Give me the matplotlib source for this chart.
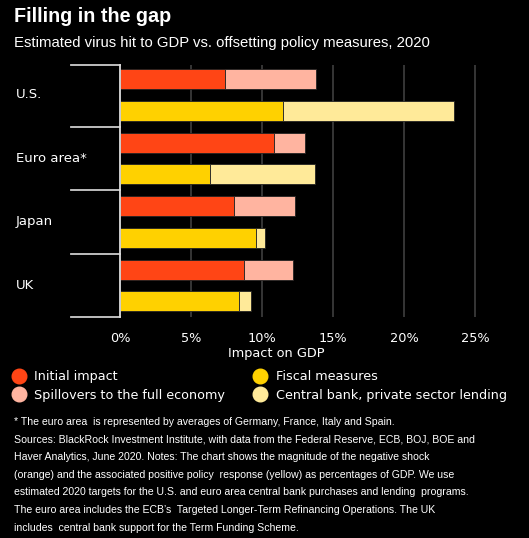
import matplotlib
matplotlib.use("Agg")
import matplotlib.pyplot as plt
from matplotlib.lines import Line2D
import matplotlib.transforms as mtransforms

countries = ["U.S.", "Euro area*", "Japan", "UK"]
initial_impact = [7.4, 10.85, 8.0, 8.7]
spillovers = [6.4, 2.15, 4.35, 3.5]
fiscal = [11.5, 6.35, 9.6, 8.4]
central_bank = [12.05, 7.35, 0.6, 0.85]
xticks = [0, 5, 10, 15, 20, 25]
xticklabels = ["0%", "5%", "10%", "15%", "20%", "25%"]

c_init = "#FF4515"
c_spill = "#FFB4A0"
c_fisc = "#FFD100"
c_cb = "#FFEA99"
bg = "#000000"
fg = "#ffffff"

fig = plt.figure(figsize=(5.29, 5.38), dpi=100, facecolor=bg)
W, H = 529, 538
ax_left, ax_right, ax_top, ax_bot = 120, 503.4, 64.7, 317.3
ax = fig.add_axes([ax_left / W, 1 - ax_bot / H, (ax_right - ax_left) / W, (ax_bot - ax_top) / H])
ax.set_facecolor(bg)

bh = 0.63
imp_pos = [2 * i for i in range(len(countries))]
pol_pos = [2 * i + 1 for i in range(len(countries))]
ec = "#222222"
ax.barh(imp_pos, initial_impact, height=bh, color=c_init, edgecolor=ec, linewidth=0.6, zorder=3)
ax.barh(imp_pos, spillovers, left=initial_impact, height=bh, color=c_spill, edgecolor=ec, linewidth=0.6, zorder=3)
ax.barh(pol_pos, fiscal, height=bh, color=c_fisc, edgecolor=ec, linewidth=0.6, zorder=3)
ax.barh(pol_pos, central_bank, left=fiscal, height=bh, color=c_cb, edgecolor=ec, linewidth=0.6, zorder=3)

ax.set_xlim(0, 27)
ax.set_ylim(7.5, -0.45)
ax.set_xticks(xticks)
ax.set_xticklabels(xticklabels, color=fg, fontsize=9.3, family="DejaVu Sans")
ax.tick_params(axis="x", length=0, pad=10.5)
ax.set_yticks([])
for x in xticks[1:]:
    ax.axvline(x, color="#3a3a3a", lw=1.3, zorder=1)
for s in ["top", "right", "bottom"]:
    ax.spines[s].set_visible(False)
ax.spines["left"].set_color("#dddddd")
ax.spines["left"].set_linewidth(1.3)
ax.spines["left"].set_zorder(5)

ax.text((276 - ax_left) / (ax_right - ax_left), -(353.5 - ax_bot) / (ax_bot - ax_top), "Impact on GDP",
        transform=ax.transAxes, color=fg, fontsize=9.3, family="DejaVu Sans", ha="center", va="center")

# bracket lines
trans = mtransforms.blended_transform_factory(ax.transAxes, ax.transData)
x0 = (71 - ax_left) / (ax_right - ax_left)
for yy in [-0.45, 1.5, 3.5, 5.5, 7.5]:
    ax.plot([x0, 0], [yy, yy], transform=trans, color="#cccccc", lw=1.3, clip_on=False, zorder=5)
for i, name in enumerate(countries):
    ax.text((16 - ax_left) / (ax_right - ax_left), 2 * i + 0.5, name, transform=trans,
            color=fg, fontsize=9.5, va="center", ha="left", family="DejaVu Sans")

# title & subtitle
fig.text(14 / W, 1 - 17 / H, "Filling in the gap", color=fg, fontsize=14.2, fontweight="bold",
         va="center", ha="left", family="Liberation Sans")
fig.text(14 / W, 1 - 43 / H, "Estimated virus hit to GDP vs. offsetting policy measures, 2020",
         color=fg, fontsize=10.7, va="center", ha="left", family="Liberation Sans")

# legend
handles = [
    Line2D([], [], marker="o", ls="", color=c_init, markersize=10.5, label="Initial impact"),
    Line2D([], [], marker="o", ls="", color=c_spill, markersize=10.5, label="Spillovers to the full economy"),
    Line2D([], [], marker="o", ls="", color=c_fisc, markersize=10.5, label="Fiscal measures"),
    Line2D([], [], marker="o", ls="", color=c_cb, markersize=10.5, label="Central bank, private sector lending"),
]
leg = fig.legend(handles=handles, ncol=2, loc="upper left", bbox_to_anchor=(5 / W, 1 - 364 / H),
                 frameon=False, labelcolor=fg, handletextpad=0.6, columnspacing=2.15,
                 labelspacing=0.4, borderpad=0, handlelength=1.2, prop={"family": "DejaVu Sans", "size": 9.2})

foot = ("* The euro area  is represented by averages of Germany, France, Italy and Spain.\n"
        "Sources: BlackRock Investment Institute, with data from the Federal Reserve, ECB, BOJ, BOE and\n"
        "Haver Analytics, June 2020. Notes: The chart shows the magnitude of the negative shock\n"
        "(orange) and the associated positive policy  response (yellow) as percentages of GDP. We use\n"
        "estimated 2020 targets for the U.S. and euro area central bank purchases and lending  programs.\n"
        "The euro area includes the ECB\u2019s  Targeted Longer-Term Refinancing Operations. The UK\n"
        "includes  central bank support for the Term Funding Scheme.")
fig.text(14 / W, 1 - 417 / H, foot, color=fg, fontsize=7.55, va="top", ha="left", linespacing=1.95,
         family=["Liberation Sans Narrow", "Liberation Sans"])

fig.savefig("out.png", dpi=100, facecolor=bg)
